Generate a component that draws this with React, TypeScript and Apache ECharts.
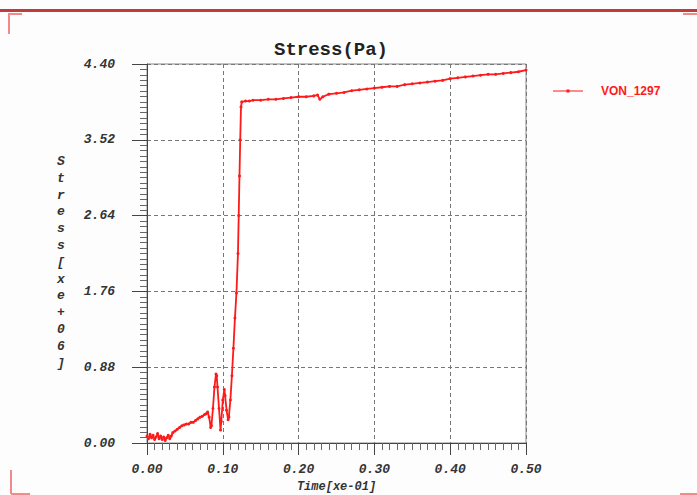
import React, { useEffect, useRef } from "react";
import * as echarts from "echarts";

const timeValues = [
  0.0, 0.002, 0.004, 0.006, 0.008, 0.01, 0.012, 0.014, 0.016, 0.018, 0.02, 0.022, 0.024, 0.026, 0.028, 0.03,
  0.032, 0.034, 0.037, 0.04, 0.043, 0.046, 0.049, 0.052, 0.055, 0.058, 0.061, 0.064, 0.067, 0.07, 0.073, 0.076,
  0.078, 0.08, 0.082, 0.084, 0.085, 0.087, 0.089, 0.091, 0.092, 0.093, 0.095, 0.097, 0.098, 0.1, 0.102, 0.103,
  0.105, 0.107, 0.108, 0.11, 0.112, 0.114, 0.116, 0.118, 0.12, 0.121, 0.122, 0.123, 0.124, 0.125, 0.13, 0.135,
  0.14, 0.15, 0.16, 0.17, 0.18, 0.19, 0.2, 0.21, 0.22, 0.225, 0.228, 0.232, 0.24, 0.25, 0.26, 0.27, 0.28, 0.29,
  0.3, 0.31, 0.32, 0.33, 0.34, 0.35, 0.36, 0.37, 0.38, 0.39, 0.4, 0.41, 0.42, 0.43, 0.44, 0.45, 0.46, 0.47, 0.48,
  0.49, 0.5,
];

const stressValues = [
  0.08, 0.05, 0.1, 0.06, 0.09, 0.04, 0.07, 0.11, 0.05, 0.08, 0.04, 0.07, 0.03, 0.06, 0.09, 0.05,
  0.08, 0.12, 0.14, 0.16, 0.18, 0.2, 0.21, 0.22, 0.22, 0.24, 0.24, 0.26, 0.28, 0.3, 0.31, 0.33,
  0.34, 0.36, 0.3, 0.18, 0.2, 0.4, 0.65, 0.8, 0.78, 0.65, 0.4, 0.15, 0.25, 0.5, 0.62, 0.55,
  0.38, 0.27, 0.3, 0.5, 0.78, 1.1, 1.45, 1.74, 2.2, 2.64, 3.1, 3.52, 3.9, 3.96, 3.97, 3.97,
  3.98, 3.98, 3.99, 3.99, 4.0, 4.01, 4.02, 4.02, 4.03, 4.04, 3.99, 4.02, 4.05, 4.06, 4.07, 4.09, 4.1, 4.11,
  4.12, 4.13, 4.14, 4.14, 4.16, 4.17, 4.18, 4.19, 4.2, 4.21, 4.23, 4.24, 4.25, 4.26, 4.27, 4.28, 4.28, 4.29, 4.3,
  4.31, 4.33,
];

const seriesName = "VON_1297";
const titleText = "Stress(Pa)";
const xAxisName = "Time[xe-01]";
const yAxisName = "Stress[xe+06]";

export default function App() {
  const ref = useRef<HTMLDivElement>(null);

  useEffect(() => {
    if (!ref.current) return;
    const chart = echarts.init(ref.current, null, { renderer: "svg" });
    const data = timeValues.map((t, i) => [t, stressValues[i]]);
    const tickFont = {
      fontFamily: "Liberation Mono",
      fontWeight: "bold" as const,
      fontStyle: "italic" as const,
      fontSize: 13,
      color: "#333333",
    };
    const red = "#ff1a1a";
    const decoRed = "#f28a8a";
    chart.setOption({
      animation: false,
      backgroundColor: "#fdfdfd",
      title: {
        text: titleText,
        left: 326,
        top: 35,
        textAlign: "center",
        textStyle: {
          fontFamily: "Liberation Mono",
          fontWeight: "bold",
          fontSize: 19,
          color: "#222222",
        },
      },
      legend: {
        left: 548,
        top: 80,
        itemWidth: 30,
        itemHeight: 8,
        data: [{ name: seriesName, icon: "path://M0,3.5L13.5,3.5L13.5,2.5L16.5,2.5L16.5,3.5L30,3.5L30,4.5L16.5,4.5L16.5,5.5L13.5,5.5L13.5,4.5L0,4.5Z" }],
        textStyle: {
          fontFamily: "Liberation Sans",
          fontWeight: "bold",
          fontSize: 12,
          color: red,
          padding: [0, 0, 0, 13],
        },
      },
      grid: {
        left: 147,
        right: 171,
        top: 64,
        bottom: 52,
        outerBoundsMode: "none",
        containLabel: false,
        show: true,
        borderColor: "#888888",
        borderWidth: 1,
        backgroundColor: "#ffffff",
      },
      xAxis: {
        type: "value",
        min: 0,
        max: 0.5,
        interval: 0.1,
        name: xAxisName,
        nameLocation: "middle",
        nameGap: 36,
        nameTextStyle: { ...tickFont, fontSize: 12 },
        axisLine: { show: true, lineStyle: { color: "#444444", width: 1 } },
        axisTick: { show: true, length: 12, lineStyle: { color: "#444444" } },
        minorTick: { show: true, splitNumber: 10, length: 7, lineStyle: { color: "#666666" } },
        axisLabel: { ...tickFont, margin: 20, formatter: (v: number) => v.toFixed(2) },
        splitLine: { show: true, lineStyle: { color: "#777777", type: [4, 3], width: 1 } },
      },
      yAxis: {
        type: "value",
        min: 0,
        max: 4.4,
        interval: 0.88,
        axisLine: { show: true, lineStyle: { color: "#444444", width: 1 } },
        axisTick: { show: true, length: 15, lineStyle: { color: "#444444" } },
        minorTick: { show: true, splitNumber: 14, length: 7, lineStyle: { color: "#666666" } },
        axisLabel: { ...tickFont, margin: 32, formatter: (v: number) => v.toFixed(2) },
        splitLine: { show: true, lineStyle: { color: "#777777", type: [4, 3], width: 1 } },
      },
      graphic: [
        {
          type: "text",
          left: 57,
          top: 153,
          style: {
            text: yAxisName.split("").join("\n"),
            fontFamily: "Liberation Mono",
            fontWeight: "bold",
            fontStyle: "italic",
            fontSize: 13,
            lineHeight: 16.8,
            fill: "#333333",
            textAlign: "center",
          },
        },
        { type: "rect", shape: { x: 0, y: 9, width: 697, height: 3 }, style: { fill: "#c23b3b" }, silent: true },
        { type: "line", shape: { x1: 8, y1: 14, x2: 22, y2: 14 }, style: { stroke: decoRed, lineWidth: 2 } },
        { type: "line", shape: { x1: 9, y1: 14, x2: 9, y2: 34 }, style: { stroke: decoRed, lineWidth: 2 } },
        { type: "line", shape: { x1: 683, y1: 14, x2: 697, y2: 14 }, style: { stroke: decoRed, lineWidth: 2 } },
        { type: "line", shape: { x1: 11, y1: 470, x2: 11, y2: 494 }, style: { stroke: decoRed, lineWidth: 2 } },
        { type: "line", shape: { x1: 11, y1: 494, x2: 30, y2: 494 }, style: { stroke: decoRed, lineWidth: 2 } },
        { type: "line", shape: { x1: 680, y1: 494, x2: 697, y2: 494 }, style: { stroke: decoRed, lineWidth: 2 } },
      ],
      series: [
        {
          name: seriesName,
          type: "line",
          data,
          color: red,
          symbol: "circle",
          symbolSize: 3,
          showSymbol: true,
          lineStyle: { color: red, width: 1.8 },
          itemStyle: { color: red },
        },
      ],
    });
    return () => chart.dispose();
  }, []);

  return (
    <div
      ref={ref}
      style={{ position: "fixed", left: 0, top: 0, width: 697, height: 495 }}
    />
  );
}
